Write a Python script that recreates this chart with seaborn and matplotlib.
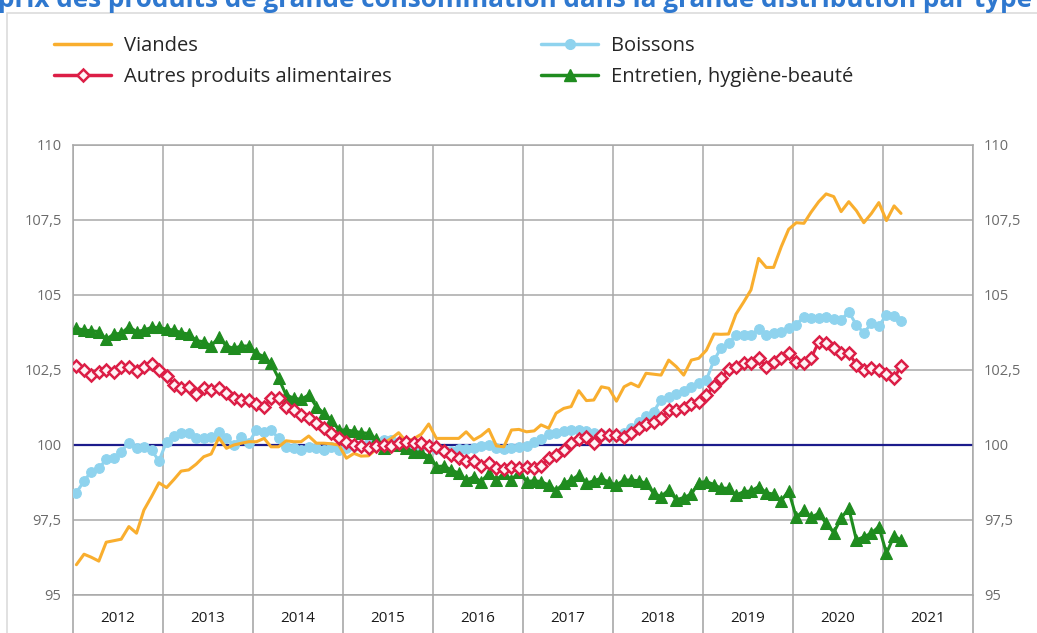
import numpy as np
import pandas as pd
import matplotlib
matplotlib.use("Agg")
import matplotlib.pyplot as plt
import matplotlib.dates as mdates
from matplotlib.patches import Rectangle
from matplotlib.lines import Line2D
import seaborn as sns

# ---------------- data ----------------
title = "prix des produits de grande consommation dans la grande distribution par type"
start_month = "2012-01-01"
end_axis = "2022-01-01"
ytick_values = [95, 97.5, 100, 102.5, 105, 107.5, 110]
ytick_labels = ["95", "97,5", "100", "102,5", "105", "107,5", "110"]
reference_level = 100

viandes = [
    96.0, 96.35, 96.25, 96.12, 96.75, 96.8, 96.85, 97.27, 97.05, 97.82, 98.27, 98.73,
    98.57, 98.85, 99.12, 99.16, 99.35, 99.6, 99.69, 100.23, 99.88, 99.99, 100.05, 100.1,
    100.1, 100.21, 99.93, 99.93, 100.13, 100.1, 100.1, 100.29, 100.05, 100.05, 100.03, 99.99,
    99.55, 99.71, 99.62, 99.63, 99.85, 100.05, 100.2, 100.4, 100.1, 100.2, 100.35, 100.69,
    100.21, 100.21, 100.21, 100.21, 100.43, 100.16, 100.3, 100.51, 99.96, 99.93, 100.49, 100.51,
    100.43, 100.46, 100.66, 100.55, 101.05, 101.21, 101.27, 101.8, 101.47, 101.49, 101.93, 101.88,
    101.45, 101.93, 102.05, 101.93, 102.38, 102.35, 102.32, 102.82, 102.6, 102.32, 102.82, 102.88,
    103.15, 103.69, 103.68, 103.69, 104.35, 104.75, 105.16, 106.21, 105.91, 105.91, 106.6, 107.18,
    107.4, 107.38, 107.75, 108.1, 108.36, 108.27, 107.77, 108.1, 107.8, 107.4, 107.71, 108.07,
    107.47, 107.96, 107.71,
]
boissons = [
    98.4, 98.79, 99.1, 99.21, 99.51, 99.55, 99.77, 100.07, 99.9, 99.93, 99.82, 99.46,
    100.1, 100.3, 100.38, 100.38, 100.21, 100.23, 100.27, 100.43, 100.21, 99.99, 100.27, 100.07,
    100.49, 100.43, 100.49, 100.21, 99.93, 99.88, 99.82, 99.93, 99.88, 99.82, 99.93, 99.82,
    99.9, 99.95, 100.0, 100.05, 100.1, 100.15, 100.15, 100.1, 100.05, 100.0, 99.95, 99.95,
    99.85, 99.8, 99.8, 99.85, 99.85, 99.9, 99.95, 99.99, 99.9, 99.85, 99.9, 99.92,
    99.95, 100.1, 100.2, 100.35, 100.4, 100.45, 100.5, 100.5, 100.45, 100.4, 100.35, 100.3,
    100.3, 100.4, 100.55, 100.75, 100.95, 101.1, 101.5, 101.6, 101.7, 101.8, 101.93, 102.07,
    102.16, 102.82, 103.21, 103.38, 103.66, 103.66, 103.66, 103.85, 103.66, 103.73, 103.77, 103.9,
    104.0, 104.27, 104.21, 104.21, 104.27, 104.18, 104.16, 104.43, 103.99, 103.73, 104.04, 103.96,
    104.32, 104.29, 104.13,
]
autres = [
    102.62, 102.49, 102.32, 102.43, 102.49, 102.43, 102.58, 102.6, 102.46, 102.58, 102.69, 102.49,
    102.29, 101.99, 101.88, 101.91, 101.69, 101.88, 101.82, 101.88, 101.73, 101.55, 101.49, 101.49,
    101.35, 101.27, 101.55, 101.55, 101.27, 101.16, 100.99, 100.88, 100.71, 100.55, 100.4, 100.21,
    100.1, 99.99, 99.95, 99.9, 99.95, 100.0, 99.95, 100.05, 100.1, 100.05, 100.05, 99.97,
    99.93, 99.8, 99.66, 99.55, 99.45, 99.45, 99.3, 99.4, 99.21, 99.2, 99.27, 99.22,
    99.27, 99.21, 99.28, 99.55, 99.66, 99.83, 100.05, 100.2, 100.25, 100.05, 100.32, 100.32,
    100.33, 100.27, 100.38, 100.55, 100.7, 100.77, 100.88, 101.15, 101.16, 101.21, 101.36, 101.43,
    101.66, 101.96, 102.21, 102.51, 102.6, 102.71, 102.73, 102.88, 102.6, 102.77, 102.88, 103.05,
    102.77, 102.71, 102.88, 103.43, 103.38, 103.21, 103.05, 103.07, 102.66, 102.49, 102.55, 102.49,
    102.36, 102.21, 102.63,
]
entretien = [
    103.88, 103.82, 103.8, 103.77, 103.51, 103.69, 103.71, 103.93, 103.77, 103.82, 103.91, 103.91,
    103.85, 103.82, 103.73, 103.69, 103.47, 103.43, 103.29, 103.58, 103.29, 103.21, 103.29, 103.29,
    103.05, 102.93, 102.71, 102.21, 101.66, 101.55, 101.51, 101.66, 101.27, 101.05, 100.82, 100.49,
    100.49, 100.45, 100.4, 100.38, 100.2, 99.9, 100.0, 100.0, 99.88, 99.77, 99.75, 99.6,
    99.27, 99.29, 99.16, 99.05, 98.82, 98.93, 98.77, 99.05, 98.82, 99.05, 98.82, 99.1,
    98.77, 98.8, 98.77, 98.66, 98.47, 98.71, 98.82, 98.99, 98.71, 98.8, 98.88, 98.75,
    98.66, 98.82, 98.82, 98.8, 98.71, 98.38, 98.27, 98.49, 98.16, 98.24, 98.35, 98.74,
    98.77, 98.67, 98.55, 98.55, 98.32, 98.43, 98.46, 98.6, 98.4, 98.35, 98.13, 98.46,
    97.58, 97.82, 97.58, 97.71, 97.38, 97.07, 97.55, 97.88, 96.82, 96.93, 97.05, 97.27,
    96.38, 96.96, 96.82,
]

# ---------------- styling ----------------
sns.set_theme(style="white")
plt.rcParams["font.family"] = ["Open Sans", "DejaVu Sans"]

W, H = 1037, 633
fig = plt.figure(figsize=(W / 100, H / 100), dpi=100)
fig.patch.set_facecolor("white")
ax = fig.add_axes([72.7 / W, 1 - 594.7 / H, 900 / W, 450 / H])

dates = pd.date_range(start_month, periods=len(viandes), freq="MS") + pd.Timedelta(days=15)
df = pd.DataFrame({
    "date": dates,
    "Viandes": viandes,
    "Boissons": boissons,
    "Autres produits alimentaires": autres,
    "Entretien, hygiène-beauté": entretien,
})

c_orange = "#f9ae2e"
c_blue = "#8fd3ee"
c_red = "#dc1e46"
c_green = "#1f8c1f"
c_grid = "#a8a8a8"

ax.axhline(reference_level, color="#1c1c8c", lw=1.6, zorder=2)

sns.lineplot(data=df, x="date", y="Boissons", ax=ax, color=c_blue, lw=2.2,
             marker="o", markersize=7, markeredgecolor=c_blue, zorder=3, legend=False)
sns.lineplot(data=df, x="date", y="Viandes", ax=ax, color=c_orange, lw=2.2,
             zorder=4, legend=False)
sns.lineplot(data=df, x="date", y="Entretien, hygiène-beauté", ax=ax, color=c_green, lw=2.2,
             marker="^", markersize=8.5, markeredgecolor=c_green, zorder=5, legend=False)
sns.lineplot(data=df, x="date", y="Autres produits alimentaires", ax=ax, color=c_red, lw=2.2,
             marker="D", markersize=6.5, markerfacecolor="#fff2f5", markeredgecolor=c_red,
             markeredgewidth=1.8, zorder=6, legend=False)

ax.set_xlim(pd.Timestamp(start_month), pd.Timestamp(end_axis))
ax.set_ylim(ytick_values[0], ytick_values[-1])
ax.set_yticks(ytick_values)
ax.set_yticklabels(ytick_labels)
ax.set_xlabel("")
ax.set_ylabel("")

ax.xaxis.set_major_locator(mdates.YearLocator())
ax.xaxis.set_major_formatter(plt.NullFormatter())
ax.xaxis.set_minor_locator(mdates.MonthLocator(bymonth=7, bymonthday=1))
ax.xaxis.set_minor_formatter(mdates.DateFormatter("%Y"))
ax.tick_params(axis="x", which="major", length=28, width=1.2, color=c_grid, direction="out",
               bottom=True)
ax.tick_params(axis="x", which="minor", length=0, pad=11.5, labelsize=11, labelcolor="#1a1a1a")
ax.tick_params(axis="y", which="major", length=0, pad=8, labelsize=10.5, labelcolor="#6b6b6b",
               left=False, right=False, labelleft=True, labelright=True)

ax.grid(True, which="major", color=c_grid, lw=1.1)
for s in ax.spines.values():
    s.set_color(c_grid)
    s.set_linewidth(1.1)

# legend (two columns)
h_v = Line2D([], [], color=c_orange, lw=2.5)
h_a = Line2D([], [], color=c_red, lw=2.5, marker="D", markersize=6.5,
             markerfacecolor="#fff2f5", markeredgecolor=c_red, markeredgewidth=1.8)
h_b = Line2D([], [], color=c_blue, lw=2.5, marker="o", markersize=7)
h_e = Line2D([], [], color=c_green, lw=2.5, marker="^", markersize=8.5)

leg_kw = dict(loc="upper left", frameon=False, borderpad=0, borderaxespad=0,
              handlelength=2.85, handletextpad=0.62, labelspacing=0.56, fontsize=14.5,
              numpoints=1)
fig.legend([h_v, h_a], ["Viandes", "Autres produits alimentaires"],
           bbox_to_anchor=(54 / W, 1 - 36 / H), **leg_kw)
fig.legend([h_b, h_e], ["Boissons", "Entretien, hygiène-beauté"],
           bbox_to_anchor=(541 / W, 1 - 36 / H), **leg_kw)

# outer frame and (cropped) title
fig.add_artist(Rectangle((7 / W, -0.1), 1.2, 1 - 12.7 / H + 0.1, transform=fig.transFigure,
                         fill=False, edgecolor="#dcdcdc", lw=1.2))
fig.text(-0.002, 1 - 7 / H, title, fontsize=18.8, fontweight="bold", color="#2f78cf",
         ha="left", va="baseline")

fig.savefig("out.png", dpi=100, facecolor="white")
